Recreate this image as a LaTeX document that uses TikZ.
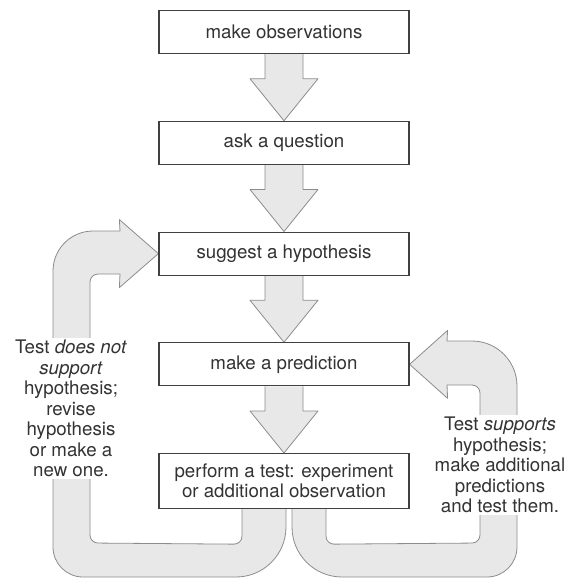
\documentclass[tikz,border=0pt]{standalone}
\usepackage{fontspec}
\setmainfont{TeX Gyre Heros}
\usetikzlibrary{calc,backgrounds}

\definecolor{ink}{gray}{0.2}
\definecolor{boxline}{gray}{0.25}
\definecolor{bandfill}{gray}{0.91}
\definecolor{bandline}{gray}{0.55}

\begin{document}
\begin{tikzpicture}[
  x=1pt, y=-1pt,
  box/.style={
    draw=boxline, line width=1.2pt, fill=white, rectangle, anchor=north,
    minimum width=250pt, minimum height=43pt,
    font=\fontsize{18.7}{20}\selectfont, text=ink, align=center, inner sep=4pt
  },
  band/.style={fill=bandfill, draw=bandline, line width=0.8pt, line join=round},
  fat/.style={band,
    to path={($(\tikztostart)+(-19,0)$) -- ($(\tikztotarget)+(-19,-42)$)
      -- ($(\tikztotarget)+(-34,-42)$) -- (\tikztotarget)
      -- ($(\tikztotarget)+(34,-42)$) -- ($(\tikztotarget)+(19,-42)$)
      -- ($(\tikztostart)+(19,0)$)}},
  note/.style={font=\fontsize{18.7}{20.5}\selectfont, text=ink, align=center,
    fill=white, inner sep=2pt, anchor=north},
]
\useasboundingbox (0,0) rectangle (579,582);

\def\sep{110.75}

\node[box] (obs)  at (284, 10)
  {make observations};
\node[box] (ask)  at (284, 10+\sep)
  {ask a question};
\node[box] (hyp)  at (284, 10+2*\sep)
  {suggest a hypothesis};
\node[box] (pred) at (284, 10+3*\sep)
  {make a prediction};
\node[box, minimum height=55pt] (test) at (284, 10+4*\sep)
  {perform a test: experiment\\or additional observation};

\node[note] (nosupport) at (71, 338)
  {Test \textit{does not}\\\textit{support}\\hypothesis;\\revise\\hypothesis\\or make a\\new one.};
\node[note] (supports)  at (500, 415)
  {Test \textit{supports}\\hypothesis;\\make additional\\predictions\\and test them.};

\begin{scope}[on background layer]
\draw[fat] (obs.south)  to (ask.north);
\draw[fat] (ask.south)  to (hyp.north);
\draw[fat] (hyp.south)  to (pred.north);
\draw[fat] (pred.south) to (test.north);

% back to the hypothesis
\draw[band] ($(test.south)+(-42,0)$) [rounded corners=8pt] -- ++(0,35)
  -- (90,543) -- (90,274)
  [sharp corners] -- (120,274) -- ($(hyp.west)+(-39,34)$) -- (hyp.west)
  -- ($(hyp.west)+(-39,-34)$) -- (120,231)
  [rounded corners=40pt] -- (53,231)
  [rounded corners=30pt] -- (53,577)
  [rounded corners=50pt] -- (286,577) -- ($(test.south)+(2,0)$);

% back to the prediction
\draw[band] ($(test.south)+(42,0)$) [rounded corners=8pt] -- ++(0,35)
  -- (480,543) -- (480,385)
  [sharp corners] -- (447,385) -- ($(pred.east)+(38,34)$) -- (pred.east)
  -- ($(pred.east)+(38,-34)$) -- (447,341)
  [rounded corners=45pt] -- (517,341)
  [rounded corners=30pt] -- (517,577)
  [rounded corners=50pt] -- (292,577) -- ($(test.south)+(8,0)$);
\end{scope}

\end{tikzpicture}
\end{document}
